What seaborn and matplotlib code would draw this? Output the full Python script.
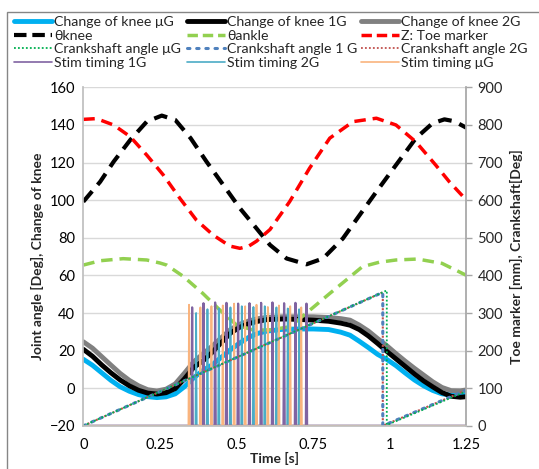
import numpy as np
import pandas as pd
import matplotlib
matplotlib.use("Agg")
import matplotlib.pyplot as plt
import seaborn as sns
from matplotlib.patches import Rectangle
from matplotlib.lines import Line2D

sns.set_theme(style="white")
plt.rcParams['font.family'] = ['Lato', 'DejaVu Sans']

# ---------------- data ----------------
t_knee = [0, 0.03, 0.06, 0.09, 0.12, 0.15, 0.18, 0.21, 0.24, 0.27, 0.30, 0.33, 0.36,
          0.39, 0.42, 0.45, 0.48, 0.51, 0.54, 0.57, 0.60, 0.65, 0.70, 0.75, 0.80,
          0.84, 0.87, 0.90, 0.93, 0.96, 0.99, 1.02, 1.05, 1.08, 1.11, 1.14, 1.17,
          1.20, 1.23, 1.25]
knee_1G = [20.7, 17, 12.4, 8.2, 4.4, 1.3, -1.1, -2.6, -3.1, -2.4, -0.2, 5, 11,
           14.5, 19, 24.2, 29.3, 32.4, 34.3, 35.6, 36.5, 36.8, 36.6, 36.2, 35.6,
           34.6, 33.5, 31.2, 27.8, 23.8, 19.6, 15.6, 11.6, 7.6, 3.9, 0.7, -2.3,
           -4.3, -4.8, -4.5]
knee_2G = [24.7, 21.3, 16.8, 12.3, 7.9, 4.2, 1.3, -0.8, -1.5, -0.5, 2.3, 8, 14,
           18.2, 22.3, 26.8, 31.2, 34, 35.8, 37, 37.7, 38, 38, 38, 37.6,
           37, 36.2, 33.6, 30.4, 26.4, 22.6, 18.4, 14.4, 10.6, 7, 3.4, 0.4,
           -1.3, -1.4, -0.9]
knee_uG = [15.4, 12.2, 8.2, 4.2, 0.8, -1.6, -3.4, -4.5, -5, -4.6, -3, 0.8, 5.5,
           9.4, 12.4, 16.4, 20.5, 24, 27.1, 29.2, 30.4, 31.3, 31.5, 31.5, 31.2,
           29.8, 28.2, 25, 21.6, 18, 15.3, 12, 8.1, 4.4, 1.3, -1.2, -3,
           -3.6, -3.1, -2.7]

t_theta_knee = [0, 0.055, 0.099, 0.153, 0.207, 0.256, 0.30, 0.35, 0.402, 0.457, 0.511,
                0.565, 0.609, 0.663, 0.728, 0.782, 0.847, 0.901, 0.956, 1.02, 1.085,
                1.139, 1.178, 1.21, 1.25]
theta_knee = [99.2, 109.8, 120.5, 132, 141.8, 145, 142.7, 133, 120.5, 108, 95.7,
              85, 76.2, 69, 65.9, 69, 79.7, 92, 104.5, 118.7, 133,
              140.9, 143, 142, 138.5]

t_theta_ankle = [0, 0.055, 0.13, 0.207, 0.25, 0.272, 0.326, 0.39, 0.446, 0.5, 0.555,
                 0.61, 0.674, 0.739, 0.804, 0.858, 0.91, 0.965, 1.02, 1.09, 1.17, 1.25]
theta_ankle = [65.5, 67.8, 68.9, 68.2, 66.6, 65.5, 59.5, 50.4, 41.5, 33.6, 30.9,
               31, 32.7, 41.5, 50.4, 57.6, 64.6, 67, 68.2, 68.7, 66.4, 60]

t_toe = [0, 0.043, 0.099, 0.153, 0.207, 0.261, 0.315, 0.369, 0.424, 0.478, 0.511,
         0.54, 0.565, 0.609, 0.673, 0.738, 0.804, 0.88, 0.956, 1.02, 1.085, 1.15,
         1.194, 1.25]
toe_z = [815, 817, 800, 769, 720, 667, 605, 547, 507, 478, 472,
         478, 491, 522, 596, 685, 765, 809, 818, 800, 755, 693,
         649, 600]

t_crank_uG = [0, 0.99, 0.99, 1.25]
crank_uG = [0, 360, 2, 92]
t_crank_1G = [0, 0.977, 0.977, 1.25]
crank_1G = [0, 355, 0, 95]
t_crank_2G = [0, 0.977, 0.977, 1.25]
crank_2G = [0, 355, 0, 95]

stim_uG_t = [0.345, 0.382, 0.418, 0.455, 0.492, 0.528, 0.565, 0.602, 0.638, 0.675, 0.711]
stim_uG_h = [322, 315, 318, 320, 325, 318, 322, 316, 320, 318, 315]
stim_1G_t = [0.355, 0.392, 0.43, 0.467, 0.505, 0.542, 0.58, 0.617, 0.655, 0.692, 0.728]
stim_1G_h = [315, 326, 328, 327, 325, 326, 327, 328, 326, 327, 325]
stim_2G_t = [0.368, 0.405, 0.442, 0.48, 0.517, 0.555, 0.592, 0.63, 0.667, 0.704]
stim_2G_h = [300, 310, 312, 315, 318, 316, 318, 315, 312, 310]


def spikes(ts, hs, w=0.002):
    x = [0.0]
    y = [0.0]
    for t, h in zip(ts, hs):
        x += [t - w, t, t + w]
        y += [0, h, 0]
    x.append(1.25)
    y.append(0)
    return x, y

# ---------------- figure ----------------
W, H = 539, 469
fig = plt.figure(figsize=(W / 100, H / 100), dpi=100)
ax = fig.add_axes([83.3 / W, 1 - 425.8 / H, (466.5 - 83.3) / W, (425.8 - 87.4) / H])
ax2 = ax.twinx()

grid_c = '#d9d9d9'
for v in range(-20, 161, 20):
    ax.axhline(v, color=grid_c, lw=1, zorder=0)

dash = (0, (3.3, 2.0))
kw = dict(ax=ax, sort=False, estimator=None, legend=False)
sns.lineplot(x=t_knee, y=knee_uG, color='#00b0f0', lw=3.5, **kw)
sns.lineplot(x=t_knee, y=knee_2G, color='#808080', lw=3.5, **kw)
sns.lineplot(x=t_knee, y=knee_1G, color='black', lw=3.5, **kw)
sns.lineplot(x=t_theta_ankle, y=theta_ankle, color='#92d050', lw=2.5, linestyle=dash, **kw)
sns.lineplot(x=t_theta_knee, y=theta_knee, color='black', lw=3, linestyle=dash, **kw)

kw2 = dict(ax=ax2, sort=False, estimator=None, legend=False)
sns.lineplot(x=t_toe, y=toe_z, color='#ff0000', lw=2.5, linestyle=dash, **kw2)

x, y = spikes(stim_2G_t, stim_2G_h)
sns.lineplot(x=x, y=y, color='#4bacc6', lw=1.3, **kw2)
x, y = spikes(stim_1G_t, stim_1G_h)
sns.lineplot(x=x, y=y, color='#8064a2', lw=1.6, **kw2)
x, y = spikes(stim_uG_t, stim_uG_h)
sns.lineplot(x=x, y=y, color='#f9b47e', lw=1.3, **kw2)

sns.lineplot(x=t_crank_2G, y=crank_2G, color='#c0504d', lw=1.5,
             linestyle=(0, (1, 1.2)), **kw2)
sns.lineplot(x=t_crank_1G, y=crank_1G, color='#4f81bd', lw=2.2,
             linestyle=(0, (0.8, 2.2)), dash_capstyle='round', **kw2)
sns.lineplot(x=t_crank_uG, y=crank_uG, color='#00b050', lw=1.3,
             linestyle=(0, (1, 1.2)), **kw2)

ax.set_xlim(0, 1.25)
ax.set_ylim(-20, 160)
ax2.set_ylim(0, 900)
ax.set_xticks([0, 0.25, 0.5, 0.75, 1, 1.25])
ax.set_xticklabels(['0', '0.25', '0.5', '0.75', '1', '1.25'])
ax.set_yticks(range(-20, 161, 20))
ax2.set_yticks(range(0, 901, 100))

fs = 10.5
ax.tick_params(axis='both', labelsize=fs, length=0, pad=6, colors='#000000')
ax.tick_params(axis='x', pad=9)
ax2.tick_params(axis='y', labelsize=fs, length=4, width=1, color='#a6a6a6',
                direction='out', pad=4)

for a in (ax, ax2):
    for s in a.spines.values():
        s.set_visible(False)
ax2.spines['left'].set_visible(True)
ax2.spines['left'].set_color('#bfbfbf')
ax2.spines['right'].set_visible(True)
ax2.spines['right'].set_color('#a6a6a6')
ax2.spines['bottom'].set_visible(True)
ax2.spines['bottom'].set_color('#bfbfbf')

ax.set_xlabel('Time [s]', fontsize=10, fontweight='bold', labelpad=0)
ax.set_ylabel('Joint angle [Deg], Change of knee', fontsize=10, fontweight='bold', labelpad=4)
ax2.set_ylabel('Toe marker [mm], Crankshaft[Deg]', fontsize=10, fontweight='bold', labelpad=5)

# ---------------- legend ----------------
def h(color, lw, ls='-', cap='butt'):
    return Line2D([], [], color=color, lw=lw, linestyle=ls, dash_capstyle=cap)

ldash = (0, (3.0, 1.4))
cols = [
    [(h('#00b0f0', 3.5), 'Change of knee μG'),
     (h('black', 3, ldash), 'θknee'),
     (h('#00b050', 1.3, (0, (1, 1.2))), 'Crankshaft angle μG'),
     (h('#8064a2', 1.2), 'Stim timing 1G')],
    [(h('black', 3.5), 'Change of knee 1G'),
     (h('#92d050', 2.5, ldash), 'θankle'),
     (h('#4f81bd', 2.2, (0, (0.8, 2.2)), 'round'), 'Crankshaft angle 1 G'),
     (h('#4bacc6', 1.2), 'Stim timing 2G')],
    [(h('#808080', 3.5), 'Change of knee 2G'),
     (h('#ff0000', 2.5, ldash), 'Z: Toe marker'),
     (h('#c0504d', 1.3, (0, (1, 1.2))), 'Crankshaft angle 2G'),
     (h('#f9b47e', 1.2), 'Stim timing μG')],
]
lfs = 10.2
xs = [14, 187, 361]
for xpix, col in zip(xs, cols):
    fig.legend([c[0] for c in col], [c[1] for c in col], loc='upper left',
               bbox_to_anchor=(xpix / W, 1 - 16 / H), frameon=False,
               fontsize=lfs, handlelength=2.68, handletextpad=0.15,
               labelspacing=0.12, borderpad=0, borderaxespad=0)

fig.patches.append(Rectangle((7 / W, -0.1), 1.2, 1 - 12 / H + 0.1,
                             transform=fig.transFigure, fill=False,
                             edgecolor='#868686', lw=1))

fig.savefig('out.png', dpi=100)
